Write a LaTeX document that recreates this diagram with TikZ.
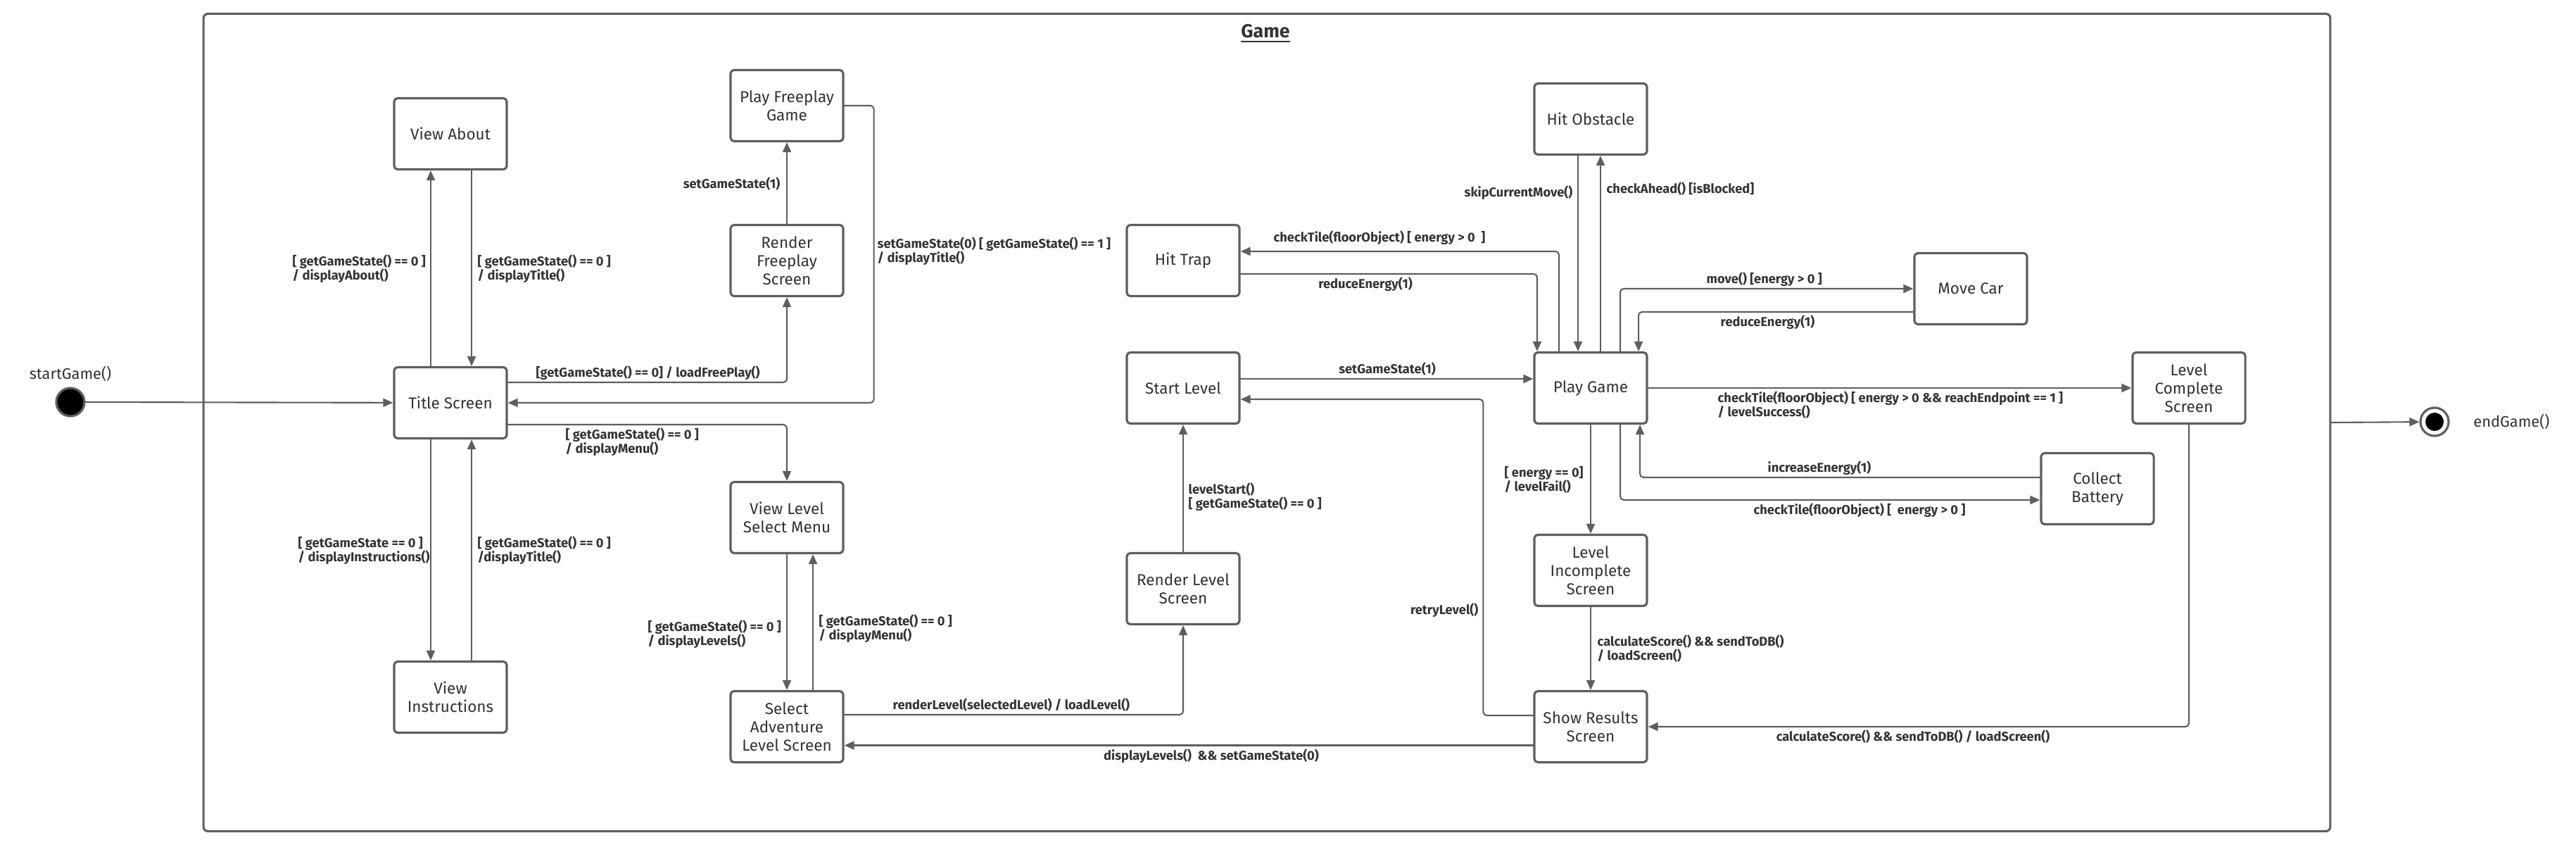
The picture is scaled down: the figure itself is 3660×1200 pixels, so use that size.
\documentclass[tikz,border=0pt]{standalone}
\usepackage{fontspec}
\setmainfont{Fira Sans}
\usetikzlibrary{arrows.meta}
\definecolor{linec}{HTML}{5E5E5E}
\definecolor{txtc}{HTML}{333333}
\begin{document}
\begin{tikzpicture}[x=0.01cm, y=-0.01cm, >={Triangle[length=0.14cm,width=0.12cm]}, line join=round, line cap=round,
	state/.style={draw=linec, line width=0.9pt, rounded corners=0.05cm, fill=white, minimum width=1.6cm, minimum height=1.01cm, align=center, text=txtc, inner sep=0.06cm, font=\fontsize{6.4}{7.4}\selectfont},
	lbl/.style={align=left, text=txtc, inner sep=0pt, font=\bfseries\fontsize{5.2}{5.7}\selectfont},
	arr/.style={->, draw=linec, line width=0.6pt, rounded corners=0.05cm}]
	\useasboundingbox (0,0) rectangle (3660,1200);
	% frame
	\node[draw=linec, line width=0.9pt, rounded corners=0.06cm, minimum width=30.2cm, minimum height=11.6cm] (game) at (1800,600) {};
	\node[text=txtc, font=\bfseries\fontsize{7.6}{9}\selectfont] (gametitle) at (1798,48) {\underline{Game}};
	% states
	\foreach \n/\x/\y/\txt in {
		title/640/572/{Title Screen},
		about/640/190/{View About},
		instr/640/990/{View\\Instructions},
		freeplay/1118/150/{Play Freeplay\\Game},
		rfree/1118/370/{Render\\Freeplay\\Screen},
		vlsm/1118/735/{View Level\\Select Menu},
		sals/1118/1032/{Select\\Adventure\\Level Screen},
		trap/1681/370/{Hit Trap},
		start/1681/551/{Start Level},
		rlevel/1681/836/{Render Level\\Screen},
		obst/2260/169/{Hit Obstacle},
		play/2260/551/{Play Game},
		incomp/2260/810/{Level\\Incomplete\\Screen},
		results/2260/1032/{Show Results\\Screen},
		movecar/2800/410/{Move Car},
		battery/2980/694/{Collect\\Battery},
		complete/3110/551/{Level\\Complete\\Screen}}{
		\node[state] (\n) at (\x,\y) {\txt};
	}
	% start / end
	\node[circle, fill=black, draw=linec, line width=0.9pt, minimum size=0.4cm, inner sep=0pt] (init) at (100,571) {};
	\node[text=txtc, font=\fontsize{6.2}{7.4}\selectfont] (initlbl) at (100,531) {startGame()};
	\node[circle, draw=linec, fill=white, line width=0.9pt, minimum size=0.4cm, inner sep=0pt] (final) at (3459,599) {};
	\node[circle, fill=black, minimum size=0.26cm, inner sep=0pt] (finaldot) at (final) {};
	\node[text=txtc, anchor=west, font=\fontsize{6.2}{7.4}\selectfont] (finallbl) at (3502,599) {endGame()};
	% transitions
	\draw[arr] (init) -- (title);
	\draw[arr] ([xshift=-0.28cm]title.north) -- ([xshift=-0.28cm]about.south);
	\draw[arr] ([xshift=0.3cm]about.south) -- ([xshift=0.3cm]title.north);
	\draw[arr] ([xshift=-0.28cm]title.south) -- ([xshift=-0.28cm]instr.north);
	\draw[arr] ([xshift=0.3cm]instr.north) -- ([xshift=0.3cm]title.south);
	\draw[arr] ([yshift=0.29cm]title.east) -| (rfree.south);
	\draw[arr] (rfree) -- (freeplay);
	\draw[arr] (freeplay.east) -- ++(42,0) |- (title.east);
	\draw[arr] ([yshift=-0.31cm]title.east) -| (vlsm.north);
	\draw[arr] (vlsm) -- (sals);
	\draw[arr] ([xshift=0.37cm]sals.north) -- ([xshift=0.37cm]vlsm.south);
	\draw[arr] ([yshift=0.17cm]sals.east) -| (rlevel.south);
	\draw[arr] (rlevel) -- (start);
	\draw[arr] ([yshift=0.13cm]start.east) -- ([yshift=0.13cm]play.west);
	\draw[arr] ([yshift=0.16cm]results.west) -- ++(-71,0) |- ([yshift=-0.16cm]start.east);
	\draw[arr] ([yshift=-0.265cm]results.west) -- ([yshift=-0.265cm]sals.east);
	\draw[arr] ([xshift=-0.45cm]play.north) |- ([yshift=0.13cm]trap.east);
	\draw[arr] ([yshift=-0.19cm]trap.east) -| ([xshift=-0.76cm]play.north);
	\draw[arr] ([xshift=-0.18cm]obst.south) -- ([xshift=-0.18cm]play.north);
	\draw[arr] ([xshift=0.14cm]play.north) -- ([xshift=0.14cm]obst.south);
	\draw[arr] ([xshift=0.42cm]play.north) |- (movecar.west);
	\draw[arr] ([yshift=-0.33cm]movecar.west) -| ([xshift=0.68cm]play.north);
	\draw[arr] (play) -- (complete);
	\draw[arr] (play) -- (incomp);
	\draw[arr] (incomp) -- (results);
	\draw[arr] ([xshift=0.42cm]play.south) |- ([yshift=-0.16cm]battery.west);
	\draw[arr] ([yshift=0.16cm]battery.west) -| ([xshift=0.7cm]play.south);
	\draw[arr] (complete.south) |- (results.east);
	\draw[arr] (game.east) -- (final);
	% labels
	\node[lbl, anchor=west] (l1) at (415,382) {[ getGameState() == 0 ]\\/ displayAbout()};
	\node[lbl, anchor=west] (l2) at (678,382) {[ getGameState() == 0 ]\\/ displayTitle()};
	\node[lbl, anchor=west] (l3) at (423,782) {[ getGameState == 0 ]\\/ displayInstructions()};
	\node[lbl, anchor=west] (l4) at (678,782) {[ getGameState() == 0 ]\\/displayTitle()};
	\node[lbl, anchor=west] (l5) at (761,530) {[getGameState() == 0] / loadFreePlay()};
	\node[lbl, anchor=east] (l6) at (1109,261) {setGameState(1)};
	\node[lbl, anchor=west] (l7) at (1246,357) {setGameState(0) [ getGameState() == 1 ]\\/ displayTitle()};
	\node[lbl, anchor=west] (l8) at (803,628) {[ getGameState() == 0 ]\\/ displayMenu()};
	\node[lbl, anchor=west] (l9) at (920,901) {[ getGameState() == 0 ]\\/ displayLevels()};
	\node[lbl, anchor=west] (l10) at (1163,893) {[ getGameState() == 0 ]\\/ displayMenu()};
	\node[lbl, anchor=west] (l11) at (1268,1001) {renderLevel(selectedLevel) / loadLevel()};
	\node[lbl, anchor=west] (l12) at (1688,706) {levelStart()\\{[} getGameState() == 0 ]};
	\node[lbl] (l13) at (1971,524) {setGameState(1)};
	\node[lbl, anchor=east] (l14) at (2101,867) {retryLevel()};
	\node[lbl] (l15) at (1721,1074) {displayLevels()\ \ \&\& setGameState(0)};
	\node[lbl] (l16) at (1960,338) {checkTile(floorObject) [ energy > 0\ \ ]};
	\node[lbl] (l17) at (1940,404) {reduceEnergy(1)};
	\node[lbl, anchor=east] (l18) at (2235,274) {skipCurrentMove()};
	\node[lbl, anchor=west] (l19) at (2282,268) {checkAhead() [isBlocked]};
	\node[lbl, anchor=west] (l20) at (2424,397) {move() [energy > 0 ]};
	\node[lbl, anchor=west] (l21) at (2444,458) {reduceEnergy(1)};
	\node[lbl, anchor=west] (l22) at (2440,575) {checkTile(floorObject) [ energy > 0 \&\& reachEndpoint == 1 ]\\/ levelSuccess()};
	\node[lbl, anchor=west] (l23) at (2137,681) {[ energy == 0]\\/ levelFail()};
	\node[lbl, anchor=west] (l24) at (2269,921) {calculateScore() \&\& sendToDB()\\/ loadScreen()};
	\node[lbl] (l25) at (2642,725) {checkTile(floorObject) [\ \ energy > 0 ]};
	\node[lbl] (l26) at (2585,665) {increaseEnergy(1)};
	\node[lbl] (l27) at (2718,1046) {calculateScore() \&\& sendToDB() / loadScreen()};
\end{tikzpicture}
\end{document}
